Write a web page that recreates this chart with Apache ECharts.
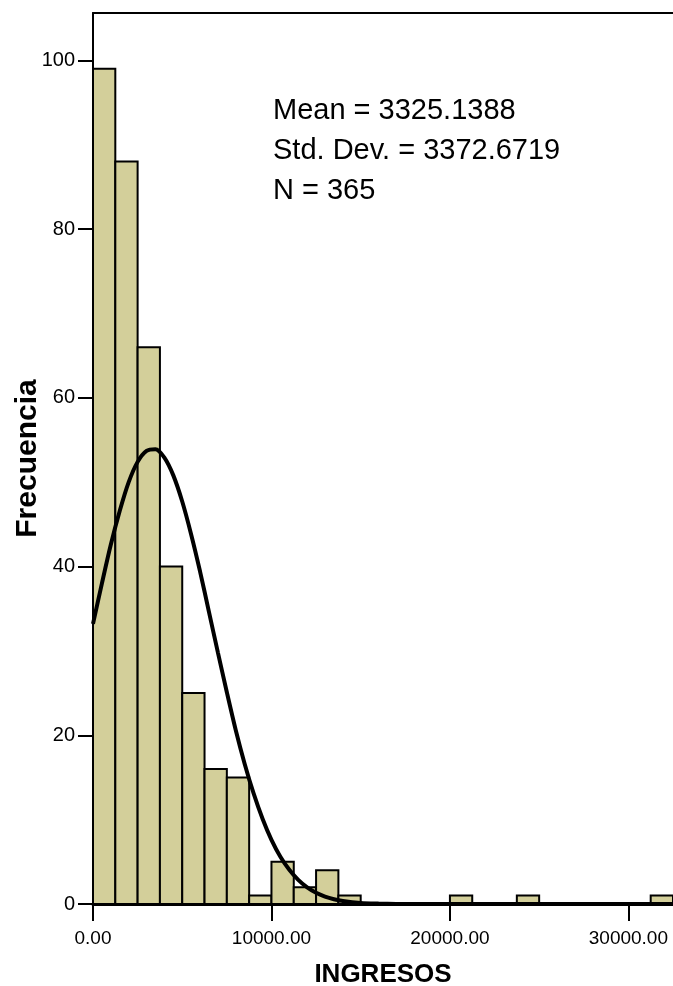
<!DOCTYPE html>
<html><head><meta charset="utf-8">
<script src="https://cdn.jsdelivr.net/npm/echarts@6/dist/echarts.min.js"></script>
<style>html,body{margin:0;padding:0;background:#fff}#c{width:673px;height:986px}</style>
</head><body><div id="c"></div>
<script>
// Histogram bins (INGRESOS), width 1250
const binWidth = 1250;
const binStarts = [0,1250,2500,3750,5000,6250,7500,8750,10000,11250,12500,13750,15000,16250,17500,18750,20000,21250,22500,23750,25000,26250,27500,28750,30000,31250];
const counts    = [99,88,66,40,25,16,15,1,5,2,4,1,0,0,0,0,1,0,0,1,0,0,0,0,0,1];

// Normal curve points
const curveX = [0,500,1000,1500,2000,2500,3000,3500,4000,4500,5000,5500,6000,6500,7000,7500,8000,8500,9000,9500,10000,10500,11000,11500,12000,12500,13000,13500,14000,15000,16000,17000,18000,20000,25000,32500];
const curveY = [33.2,38.0,42.6,46.6,50.0,52.4,53.7,53.9,52.9,50.8,47.7,43.8,39.4,34.6,29.8,25.1,20.6,16.6,13.1,10.1,7.6,5.6,4.05,2.86,1.97,1.33,0.88,0.57,0.36,0.13,0.05,0.01,0,0,0,0];

const xTicks = [0,10000,20000,30000];
const yTicks = [0,20,40,60,80,100];
const statsLines = ['Mean = 3325.1388','Std. Dev. = 3372.6719','N = 365'];

const FONT = '"Liberation Sans", Arial, sans-serif';
const chart = echarts.init(document.getElementById('c'));
chart.setOption({
  animation: false,
  backgroundColor: '#fff',
  grid: { left: 93, top: 13, right: 0, bottom: 82, containLabel: false, outerBoundsMode: 'none' },
  xAxis: [{
    type: 'value', min: 0, max: 32500, position: 'bottom',
    axisLine: { show: true, onZero: false, lineStyle: { color: '#000', width: 3 } },
    axisTick: { show: true, customValues: xTicks, length: 17, lineStyle: { color: '#000', width: 2 } },
    axisLabel: { customValues: xTicks, formatter: v => Number(v).toFixed(2), fontSize: 19, color: '#000', margin: 25, fontFamily: FONT },
    splitLine: { show: false },
    name: 'INGRESOS', nameLocation: 'middle', nameGap: 58, nameMoveOverlap: false,
    nameTextStyle: { fontSize: 26, fontWeight: 'bold', color: '#000', fontFamily: FONT }
  }, {
    type: 'value', min: 0, max: 32500, position: 'top',
    axisLine: { show: true, onZero: false, lineStyle: { color: '#000', width: 2 } },
    axisTick: { show: false }, axisLabel: { show: false }, splitLine: { show: false }
  }],
  yAxis: [{
    type: 'value', min: 0, max: 105.6, position: 'left',
    axisLine: { show: true, onZero: false, lineStyle: { color: '#000', width: 2 } },
    axisTick: { show: true, customValues: yTicks, length: 15, lineStyle: { color: '#000', width: 2 } },
    axisLabel: { customValues: yTicks, fontSize: 20, color: '#000', margin: 18, fontFamily: FONT },
    splitLine: { show: false },
    name: 'Frecuencia', nameLocation: 'middle', nameGap: 50, nameMoveOverlap: false,
    nameTextStyle: { fontSize: 30, fontWeight: 'bold', color: '#000', fontFamily: FONT }
  }, {
    type: 'value', min: 0, max: 105.6, position: 'right',
    axisLine: { show: true, onZero: false, lineStyle: { color: '#999', width: 1 } },
    axisTick: { show: false }, axisLabel: { show: false }, splitLine: { show: false }
  }],
  series: [{
    type: 'custom',
    xAxisIndex: 0, yAxisIndex: 0,
    data: binStarts.map((s, i) => [s, s + binWidth, counts[i]]),
    renderItem: function (params, api) {
      const c = api.value(2);
      if (!c) return null;
      const p0 = api.coord([api.value(0), c]);
      const p1 = api.coord([api.value(1), 0]);
      return {
        type: 'rect',
        shape: { x: p0[0], y: p0[1], width: p1[0] - p0[0], height: p1[1] - p0[1] },
        style: { fill: '#D3CF9A', stroke: '#000', lineWidth: 2 }
      };
    },
    z: 2
  }, {
    type: 'line',
    xAxisIndex: 0, yAxisIndex: 0,
    data: curveX.map((x, i) => [x, curveY[i]]),
    smooth: 0.3,
    showSymbol: false, symbol: 'none',
    lineStyle: { color: '#000', width: 4 },
    z: 5
  }],
  graphic: [{
    type: 'text', left: 273, top: 91, z: 10,
    style: { text: statsLines.join('\n'), font: '29px ' + FONT, lineHeight: 40, fill: '#000' }
  }]
});
</script></body></html>
